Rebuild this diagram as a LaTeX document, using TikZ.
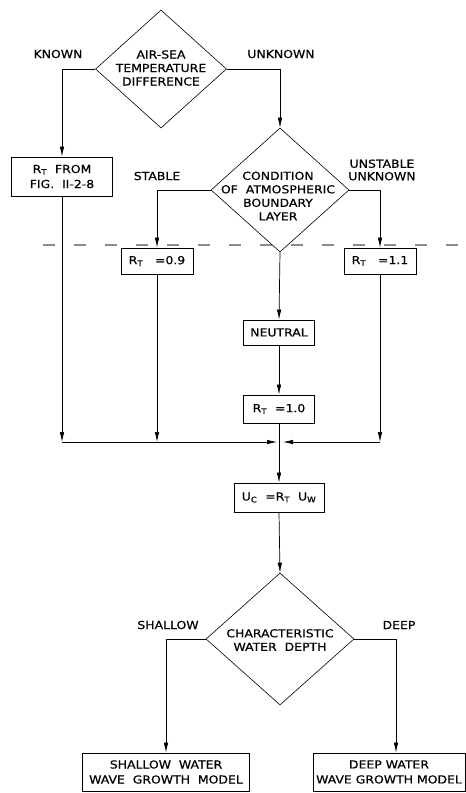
\documentclass[tikz,border=0pt]{standalone}
\usepackage{fontspec}
\setmainfont{DejaVu Sans}[FakeStretch=1.13,FakeBold=0.6]
\usetikzlibrary{shapes.geometric,arrows.meta}

\begin{document}
\begin{tikzpicture}[x=1pt,y=-1pt,
  font=\fontsize{11}{13.5}\selectfont,
  box/.style={draw,line width=0.8pt,inner sep=0pt,align=center,font=\fontsize{11}{15}\selectfont},
  decision/.style={draw,diamond,line width=0.6pt,inner sep=0pt},
  lbl/.style={align=center,inner sep=0pt},
  arr/.style={line width=0.7pt,-{Latex[length=10pt,width=4.5pt]}},
  wire/.style={line width=0.7pt}]
  \useasboundingbox (0,0) rectangle (466,793);
  % boundary of the atmospheric layer
  \draw[black!45,line width=2.5pt,dash pattern=on 12pt off 19pt] (43,245) -- (466,245);
  % decisions
  \node[decision,minimum width=131pt,minimum height=118pt] (airsea) at (161,69) {};
  \node[lbl] (airsea-t) at (161,68) {AIR-SEA\\TEMPERATURE\\DIFFERENCE};
  \node[decision,minimum width=138pt,minimum height=124pt] (cond) at (280,190) {};
  \node[lbl] (cond-t) at (278,196) {CONDITION\\OF\ \ ATMOSPHERIC\\BOUNDARY\\LAYER};
  \node[decision,minimum width=148pt,minimum height=132pt] (depth) at (280,639) {};
  \node[lbl] (depth-t) at (280,640) {CHARACTERISTIC\\WATER\ \ DEPTH};
  % boxes
  \node[box,minimum width=101pt,minimum height=39pt] (rtfig) at (62,176.5) {R\textsubscript{T}\ \ FROM\\FIG.\ \ II-2-8};
  \node[box,minimum width=72pt,minimum height=26pt] (rt09) at (157,261) {R\textsubscript{T}\ \ \ =0.9};
  \node[box,minimum width=72pt,minimum height=26pt] (rt11) at (380,261) {R\textsubscript{T}\ \ \ =1.1};
  \node[box,minimum width=71pt,minimum height=25pt] (neutral) at (279,332.5) {NEUTRAL};
  \node[box,minimum width=71pt,minimum height=28pt] (rt10) at (279,409) {R\textsubscript{T}\ \ =1.0};
  \node[box,minimum width=90pt,minimum height=29pt] (uc) at (279,497.5) {U\textsubscript{C}\ \ =R\textsubscript{T}\ \ U\textsubscript{W}};
  \node[box,minimum width=167pt,minimum height=38pt] (shallow) at (166,772) {SHALLOW\ \ WATER\\WAVE\ \ GROWTH\ \ MODEL};
  \node[box,minimum width=152pt,minimum height=38pt] (deep) at (389,772) {DEEP WATER\\WAVE GROWTH MODEL};
  % branch labels
  \node[lbl] (known) at (58,54) {KNOWN};
  \node[lbl] (unknown) at (281,54) {UNKNOWN};
  \node[lbl] (stable) at (157,176) {STABLE};
  \node[lbl,font=\fontsize{11}{12.5}\selectfont] (unstable) at (382,170) {UNSTABLE\\UNKNOWN};
  \node[lbl] (shallow-l) at (168,625) {SHALLOW};
  \node[lbl] (deep-l) at (399,625) {DEEP};
  % flow
  \draw[arr] (airsea.west) -| (rtfig.north);
  \draw[arr] (airsea.east) -| (cond.north);
  \draw[arr] (cond.west) -| (rt09.north);
  \draw[arr] (cond.east) -| (rt11.north);
  \draw[arr] (cond.south) -- (neutral.north);
  \draw[arr] (neutral.south) -- (rt10.north);
  % merge of the three values
  \coordinate (merge) at (280,442);
  \foreach \b in {rtfig,rt09,rt11}
    \draw[arr] (\b.south) -- (\b.south |- merge);
  \draw[arr,shorten >=3pt] (rtfig.south |- merge) -- (merge);
  \draw[arr,shorten >=3pt] (rt11.south |- merge) -- (merge);
  \draw[arr] (rt10.south) -- (uc.north);
  \draw[arr] (uc.south) -- (depth.north);
  % water depth
  \coordinate (deep-in) at ([xshift=7pt]deep.north);
  \draw[arr] (depth.west) -| (shallow.north);
  \draw[arr] (depth.east) -| (deep-in);
\end{tikzpicture}
\end{document}
